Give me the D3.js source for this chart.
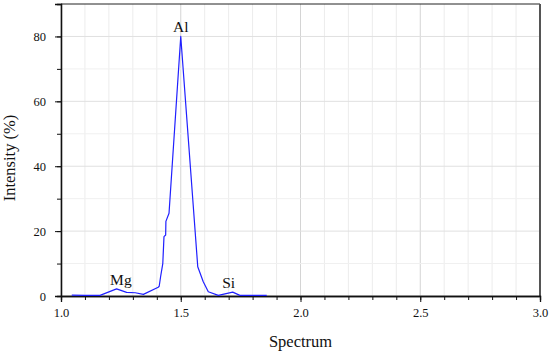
<!DOCTYPE html>
<html>
<head>
<meta charset="utf-8">
<script src="https://cdn.jsdelivr.net/npm/d3@7"></script>
<style>
  body { margin: 0; background: #fff; }
  text { font-family: "Liberation Serif", "DejaVu Serif", serif; fill: #111; }
</style>
</head>
<body>
<svg id="chart" width="550" height="354"></svg>
<script>
// spectrum readings (keV, intensity %)
var energy = [1.045, 1.10, 1.163, 1.232, 1.274, 1.31, 1.344, 1.406, 1.410, 1.416, 1.425, 1.430, 1.437, 1.438, 1.451,
              1.50, 1.571, 1.594, 1.615, 1.657, 1.717, 1.747, 1.859];
var intensity = [0.3, 0.2, 0.2, 2.2, 1.1, 1.0, 0.5, 2.7, 3.0, 6.0, 10.0, 18.3, 18.8, 23.0, 25.5,
                 80.0, 9.0, 4.4, 1.3, 0.2, 1.2, 0.2, 0.2];

var peakNames = ["Mg", "Al", "Si"];
var peakX = [1.25, 1.50, 1.70];
var peakY = [2.2, 80, 1.2];

var xMajor = [1.0, 1.5, 2.0, 2.5, 3.0];
var yMajor = [0, 20, 40, 60, 80];

var margin = { left: 61, right: 10, top: 4, bottom: 58 };
var W = 550, H = 354;

var svg = d3.select("#chart");

var x = d3.scaleLinear().domain([1, 3]).range([margin.left, W - margin.right]);
var y = d3.scaleLinear().domain([0, 90]).range([H - margin.bottom, margin.top]);

var xMinor = d3.range(10, 31).map(function (d) { return d / 10; });
var yMinor = d3.range(0, 90, 10);

// grid
var grid = svg.append("g");
grid.selectAll(".vx").data(xMinor).join("line")
  .attr("x1", function (d) { return x(d); }).attr("x2", function (d) { return x(d); })
  .attr("y1", y(0)).attr("y2", y(90))
  .attr("stroke", function (d) { return Math.abs(d * 2 - Math.round(d * 2)) < 1e-6 ? "#d4d4d4" : "#ececec"; })
  .attr("stroke-width", 1);
grid.selectAll(".hy").data(yMinor).join("line")
  .attr("x1", x(1)).attr("x2", x(3))
  .attr("y1", function (d) { return y(d); }).attr("y2", function (d) { return y(d); })
  .attr("stroke", function (d) { return d % 20 === 0 ? "#e0e0e0" : "#f0f0f0"; })
  .attr("stroke-width", 1);

// frame
svg.append("line").attr("x1", x(1)).attr("x2", x(3)).attr("y1", y(90)).attr("y2", y(90))
  .attr("stroke", "#222").attr("stroke-width", 1);
svg.append("line").attr("x1", x(3)).attr("x2", x(3)).attr("y1", y(90)).attr("y2", y(0))
  .attr("stroke", "#555").attr("stroke-width", 2);

// axes
svg.append("g").attr("transform", "translate(0," + y(0) + ")")
  .call(d3.axisBottom(x).tickValues(xMinor).tickSize(4).tickFormat(""));
svg.append("g").attr("transform", "translate(0," + y(0) + ")")
  .call(d3.axisBottom(x).tickValues(xMajor).tickSize(6).tickPadding(6).tickFormat(d3.format(".1f")))
  .call(function (g) { g.selectAll("text").attr("font-size", 12.5); });

svg.append("g").attr("transform", "translate(" + x(1) + ",0)")
  .call(d3.axisLeft(y).tickValues(yMinor).tickSize(4).tickFormat(""));
svg.append("g").attr("transform", "translate(" + x(1) + ",0)")
  .call(d3.axisLeft(y).tickValues(yMajor).tickSize(6).tickPadding(9))
  .call(function (g) { g.selectAll("text").attr("font-size", 12.5); });

svg.selectAll(".domain").attr("stroke", "#111").attr("stroke-width", 1.3);
svg.selectAll(".tick line").attr("stroke", "#111");

// spectrum line
var pts = energy.map(function (e, i) { return [e, intensity[i]]; });
svg.append("path").datum(pts)
  .attr("fill", "none").attr("stroke", "#2020ff").attr("stroke-width", 1.2)
  .attr("stroke-linejoin", "round")
  .attr("d", d3.line().x(function (d) { return x(d[0]); }).y(function (d) { return y(d[1]); }));

// peak labels
svg.selectAll(".peak").data(peakNames).join("text")
  .attr("x", function (d, i) { return x(peakX[i]); })
  .attr("y", function (d, i) { return y(peakY[i]) - 4; })
  .attr("text-anchor", "middle").attr("font-size", 15.5)
  .text(function (d) { return d; });

// axis titles
svg.append("text").attr("x", x(2)).attr("y", 347).attr("text-anchor", "middle")
  .attr("font-size", 16.5).text("Spectrum");
svg.append("text").attr("transform", "translate(15,158) rotate(-90)")
  .attr("text-anchor", "middle").attr("font-size", 16.5).text("Intensity (%)");
</script>
</body>
</html>
